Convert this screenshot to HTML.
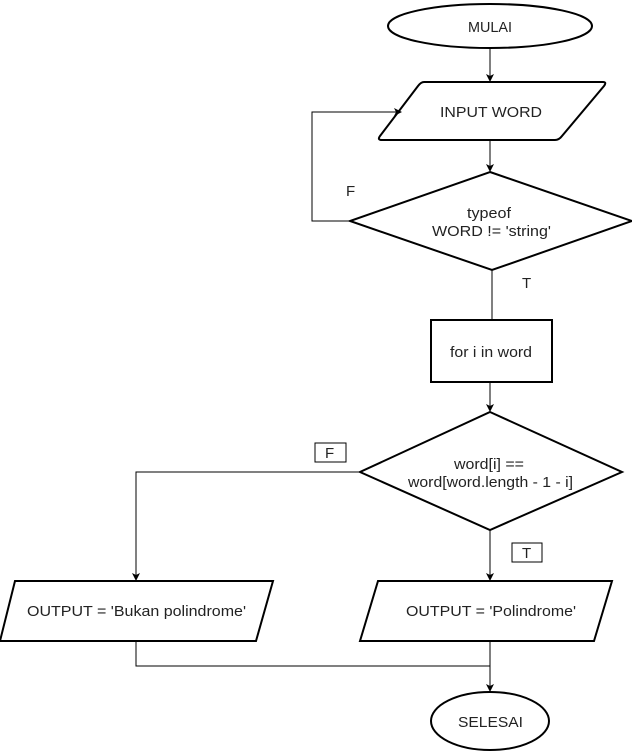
<!DOCTYPE html>
<html><head><style>
html,body{margin:0;padding:0;background:#fff;}
svg{display:block;}
text{font-family:"Liberation Sans",Arial,sans-serif;font-size:15px;fill:#222;}
</style></head><body>
<svg width="632" height="752" viewBox="0 0 632 752" xmlns="http://www.w3.org/2000/svg">
<defs><marker id="a" markerWidth="8" markerHeight="8" refX="7" refY="4" orient="auto" markerUnits="userSpaceOnUse"><path d="M0,0 L8,4 L0,8 L2,4 z" fill="#000"/></marker></defs>
<g fill="none" stroke="#000" stroke-width="2">
<ellipse cx="490" cy="26" rx="102" ry="22"/>
<path d="M424,82 L603,82 Q607,82 604,86 L562,136 Q559,140 555,140 L382,140 Q377,140 380,136 L418,86 Q421,82 424,82 Z"/>
<polygon points="490,172 632,221 492,270 350,221"/>
<rect x="431" y="320" width="121" height="62"/>
<polygon points="490,412 622,472 490,530 360,472"/>
<polygon points="15,581 273,581 256,641 0,641"/>
<polygon points="378,581 612,581 594,641 360,641"/>
<ellipse cx="490" cy="721" rx="59" ry="29"/>
</g>
<g fill="none" stroke="#000" stroke-width="1">
<line x1="490" y1="48" x2="490" y2="81" marker-end="url(#a)"/>
<line x1="490" y1="140" x2="490" y2="171" marker-end="url(#a)"/>
<polyline points="350,221 312,221 312,112 401,112" marker-end="url(#a)"/>
<line x1="492" y1="270" x2="492" y2="320"/>
<line x1="490" y1="382" x2="490" y2="411" marker-end="url(#a)"/>
<polyline points="360,472 136,472 136,580" marker-end="url(#a)"/>
<line x1="490" y1="530" x2="490" y2="580" marker-end="url(#a)"/>
<polyline points="136,641 136,666 490,666"/>
<line x1="490" y1="641" x2="490" y2="691" marker-end="url(#a)"/>
<rect x="315" y="443" width="31" height="19" fill="#fff"/>
<rect x="512" y="543" width="30" height="19" fill="#fff"/>
</g>
<g>
<text x="468" y="32" textLength="44" lengthAdjust="spacingAndGlyphs">MULAI</text>
<text x="440" y="117" textLength="102" lengthAdjust="spacingAndGlyphs">INPUT WORD</text>
<text x="467" y="218" textLength="44" lengthAdjust="spacingAndGlyphs">typeof</text>
<text x="432" y="236" textLength="119" lengthAdjust="spacingAndGlyphs">WORD != 'string'</text>
<text x="346" y="196">F</text>
<text x="522" y="288">T</text>
<text x="450" y="357" textLength="82" lengthAdjust="spacingAndGlyphs">for i in word</text>
<text x="454" y="469" textLength="70" lengthAdjust="spacingAndGlyphs">word[i] ==</text>
<text x="408" y="487" textLength="165" lengthAdjust="spacingAndGlyphs">word[word.length - 1 - i]</text>
<text x="325" y="458">F</text>
<text x="522" y="558">T</text>
<text x="27" y="616" textLength="219" lengthAdjust="spacingAndGlyphs">OUTPUT = 'Bukan polindrome'</text>
<text x="406" y="616" textLength="170" lengthAdjust="spacingAndGlyphs">OUTPUT = 'Polindrome'</text>
<text x="458" y="727" textLength="65" lengthAdjust="spacingAndGlyphs">SELESAI</text>
</g>
</svg>
</body></html>
